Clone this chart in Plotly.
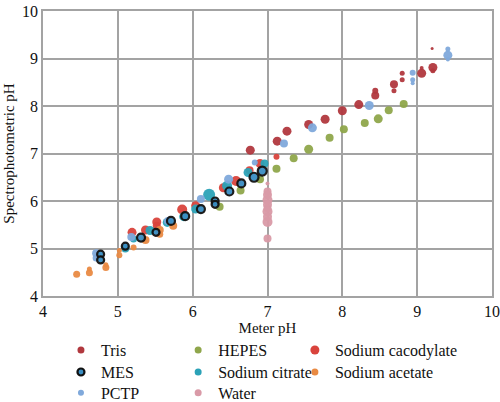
import plotly.graph_objects as go

# ---- data (meter pH, spectrophotometric pH, marker size) ----
tris_x = [6.77, 7.13, 7.26, 7.55, 7.77, 8.00, 8.22, 8.44, 8.44, 8.69, 8.69, 8.80, 8.80, 9.06, 9.06, 9.21, 9.21, 9.20]
tris_y = [7.07, 7.26, 7.47, 7.61, 7.72, 7.90, 8.03, 8.22, 8.32, 8.46, 8.32, 8.69, 8.55, 8.69, 8.80, 8.81, 8.74, 9.21]
tris_s = [9, 9, 9, 9, 9, 9, 9, 8, 6, 8, 5, 5, 5, 9, 4, 9, 5, 3]

hepes_x = [6.36, 6.64, 6.90, 7.12, 7.35, 7.55, 7.83, 8.02, 8.30, 8.48, 8.62, 8.82]
hepes_y = [5.88, 6.22, 6.46, 6.68, 6.90, 7.09, 7.33, 7.51, 7.64, 7.73, 7.91, 8.04]
hepes_s = [8, 8, 8, 8, 8, 9, 8, 8, 8, 9, 8, 8]

caco_x = [5.19, 5.37, 5.52, 5.52, 5.86, 6.04, 6.41, 6.58, 6.76, 6.90, 7.12]
caco_y = [5.34, 5.39, 5.56, 5.48, 5.82, 5.90, 6.28, 6.42, 6.65, 6.79, 6.93]
caco_s = [9, 9, 9, 8, 10, 9, 9, 10, 8, 9, 6]

mes_x = [4.77, 4.77, 5.10, 5.31, 5.51, 5.71, 5.90, 6.11, 6.30, 6.30, 6.49, 6.65, 6.82, 6.93]
mes_y = [4.88, 4.76, 5.05, 5.23, 5.34, 5.58, 5.68, 5.83, 6.00, 5.93, 6.20, 6.37, 6.50, 6.63]
mes_s = [7, 7, 7, 8, 7, 8, 8, 8, 7, 7, 8, 8, 9, 9]

citr_x = [5.10, 5.21, 5.43, 5.66, 5.88, 6.04, 6.22, 6.46, 6.74, 6.96]
citr_y = [5.00, 5.20, 5.38, 5.55, 5.67, 5.83, 6.13, 6.32, 6.60, 6.79]
citr_s = [8, 7, 9, 9, 9, 9, 12, 10, 9, 8]

acet_x = [4.45, 4.62, 4.62, 4.84, 4.84, 5.02, 5.02, 5.21, 5.37, 5.56, 5.56, 5.74]
acet_y = [4.46, 4.49, 4.57, 4.60, 4.66, 4.86, 4.96, 5.02, 5.18, 5.39, 5.30, 5.48]
acet_s = [7, 7, 5, 7, 5, 6, 5, 6, 8, 8, 7, 8]

pctp_x = [4.71, 4.71, 5.18, 5.67, 6.11, 6.48, 6.83, 7.22, 7.60, 8.36, 8.94, 8.94, 8.94, 9.41, 9.41, 9.41]
pctp_y = [4.90, 4.80, 5.24, 5.58, 6.04, 6.46, 6.81, 7.21, 7.54, 8.01, 8.70, 8.55, 8.48, 9.07, 9.20, 8.98]
pctp_s = [8, 7, 8, 8, 8, 9, 6, 8, 9, 9, 6, 5, 4, 9, 5, 4]

water_x = [7.0, 7.0, 7.0, 7.0, 7.0, 7.0, 7.0, 7.0, 7.0, 7.0]
water_y = [6.37, 6.20, 6.13, 6.02, 5.92, 5.85, 5.78, 5.67, 5.56, 5.21]
water_s = [4, 8, 9, 10, 9, 8, 10, 9, 10, 8]

# name, x, y, size, colour, outline, legend marker size
series = [
    ("Tris", tris_x, tris_y, tris_s, "#B1383E", None, 7),
    ("HEPES", hepes_x, hepes_y, hepes_s, "#8FA64B", None, 7),
    ("Sodium cacodylate", caco_x, caco_y, caco_s, "#D9433C", None, 9),
    ("MES", mes_x, mes_y, mes_s, "#3A8EC3", "#111111", 7),
    ("Sodium citrate", citr_x, citr_y, citr_s, "#2BA2B7", None, 7),
    ("Sodium acetate", acet_x, acet_y, acet_s, "#E98A43", None, 7),
    ("PCTP", pctp_x, pctp_y, pctp_s, "#80A9DB", None, 6),
    ("Water", water_x, water_y, water_s, "#D99AA7", None, 7),
]

# legend grid: 3 columns x 3 rows (column x, row y in paper coords)
col_x = [0.040, 0.301, 0.561]
row_y = [-0.190, -0.267, -0.340]

grid = "#A3A3A3"
font = "Liberation Serif"
legfont = dict(family=font, size=16, color="#111111")

fig = go.Figure()
order = [7, 1, 0, 2, 4, 5, 6, 3]
legends = {}
for i in order:
    name, xs, ys, ss, col, line, lsz = series[i]
    key = "legend" if i == 0 else "legend%d" % (i + 1)
    fig.add_trace(go.Scatter(
        x=xs, y=ys, mode="markers", name=name, legendgroup=name, showlegend=False,
        marker=dict(size=ss, color=col, opacity=0.95,
                    line=dict(width=2.2 if line else 0, color=line or col)),
    ))
    # legend entry with a fixed swatch size
    fig.add_trace(go.Scatter(
        x=[None], y=[None], mode="markers", name=name, legendgroup=name, legend=key,
        marker=dict(size=lsz, color=col,
                    line=dict(width=2.2 if line else 0, color=line or col)),
    ))
    legends[key] = dict(orientation="v", x=col_x[i % 3], xanchor="left",
                        y=row_y[i // 3], yanchor="middle",
                        itemsizing="trace", font=legfont,
                        itemwidth=30, bgcolor="rgba(0,0,0,0)")

fig.update_layout(
    width=500, height=402,
    margin=dict(l=43, r=8, t=11, b=106, autoexpand=False),
    paper_bgcolor="white", plot_bgcolor="white",
    font=dict(family=font, size=16, color="#111111"),
    showlegend=True,
    **legends,
)
fig.update_xaxes(range=[4, 10], dtick=1, showgrid=True, gridcolor=grid, gridwidth=1.5,
                 showline=True, linecolor=grid, linewidth=1.5, mirror=True,
                 zeroline=False, ticks="", tickfont=dict(family=font, size=16),
                 title=dict(text="Meter pH", font=dict(family=font, size=15), standoff=0))
fig.update_yaxes(range=[4, 10], dtick=1, showgrid=True, gridcolor=grid, gridwidth=1.5,
                 showline=True, linecolor=grid, linewidth=1.5, mirror=True,
                 zeroline=False, ticks="", tickfont=dict(family=font, size=16),
                 title=dict(text="Spectrophotometric pH", font=dict(family=font, size=15), standoff=4))

fig.write_html("out.html")
